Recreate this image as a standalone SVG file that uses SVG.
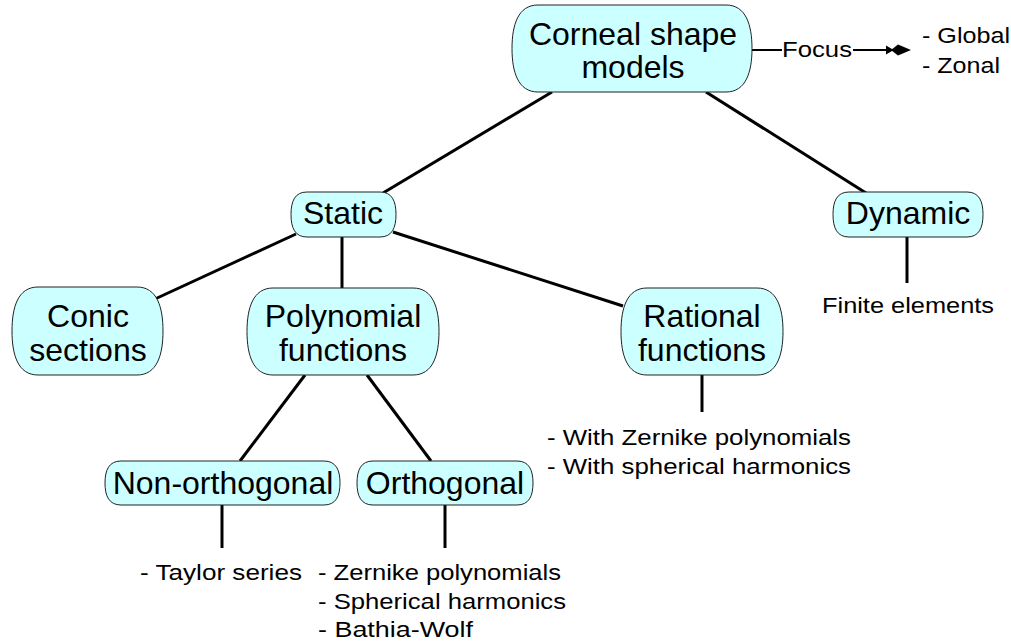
<svg xmlns="http://www.w3.org/2000/svg" width="1011" height="643" viewBox="0 0 1011 643">
  <style>
    .box { fill: #ccffff; stroke: #222; stroke-width: 1; }
    .lbl { font-family: "Liberation Sans", Arial, sans-serif; font-size: 32px; fill: #000; text-anchor: middle; }
    .note { font-family: "Liberation Sans", Arial, sans-serif; font-size: 22px; fill: #000; }
    .link { stroke: #000; stroke-width: 3; fill: none; }
    .thin { stroke: #000; stroke-width: 2; fill: none; }
  </style>
  <defs>
    <marker id="diamondHead" markerUnits="userSpaceOnUse" markerWidth="28" markerHeight="14" refX="2" refY="7" orient="auto" viewBox="0 0 28 14">
      <path d="M0,2.5 L6,6 L6,8 L0,11.5 Z M5,7 L12,1.5 L25,7 L12,12.5 Z" fill="#000"/>
    </marker>
  </defs>

  <!-- connectors -->
  <g id="connectors">
    <line class="link" x1="552" y1="92" x2="383" y2="193"/>
    <line class="link" x1="706" y1="92" x2="866" y2="193"/>
    <line class="link" x1="296" y1="234" x2="155" y2="299"/>
    <line class="link" x1="342" y1="237" x2="342" y2="288"/>
    <line class="link" x1="393" y1="232" x2="623" y2="306"/>
    <line class="link" x1="305" y1="375" x2="240" y2="461"/>
    <line class="link" x1="367" y1="375" x2="431" y2="461"/>
    <line class="link" x1="702" y1="375" x2="702" y2="412"/>
    <line class="link" x1="907" y1="237" x2="907" y2="283"/>
    <line class="link" x1="222" y1="505" x2="222" y2="548"/>
    <line class="link" x1="445" y1="505" x2="445" y2="548"/>
    <line class="thin" x1="752" y1="50" x2="782" y2="50"/>
    <line class="thin" x1="853" y1="50" x2="888" y2="50" marker-end="url(#diamondHead)"/>
    <text class="note" x="782" y="57" textLength="70" lengthAdjust="spacingAndGlyphs">Focus</text>
  </g>

  <!-- nodes -->
  <g id="node-corneal">
    <path class="box" d="M538,5 H726 C746,5 752,25 752,48.5 C752,72 746,92 726,92 H538 C518,92 512,72 512,48.5 C512,25 518,5 538,5 Z"/>
    <text class="lbl" x="633" y="45">Corneal shape</text>
    <text class="lbl" x="633" y="78">models</text>
  </g>
  <g id="node-static">
    <path class="box" d="M307,192 H380 C392,192 396,201 396,214.5 C396,228 392,237 380,237 H307 C295,237 291,228 291,214.5 C291,201 295,192 307,192 Z"/>
    <text class="lbl" x="343" y="224">Static</text>
  </g>
  <g id="node-dynamic">
    <path class="box" d="M849,192 H967 C979,192 983,201 983,214.5 C983,228 979,237 967,237 H849 C837,237 833,228 833,214.5 C833,201 837,192 849,192 Z"/>
    <text class="lbl" x="908" y="224">Dynamic</text>
  </g>
  <g id="node-conic">
    <path class="box" d="M38,287 H137 C157,287 163,307 163,331 C163,355 157,375 137,375 H38 C18,375 12,355 12,331 C12,307 18,287 38,287 Z"/>
    <text class="lbl" x="88" y="327">Conic</text>
    <text class="lbl" x="88" y="361">sections</text>
  </g>
  <g id="node-polynomial">
    <path class="box" d="M273,288 H413 C433,288 439,308 439,331.5 C439,355 433,375 413,375 H273 C253,375 247,355 247,331.5 C247,308 253,288 273,288 Z"/>
    <text class="lbl" x="343" y="327">Polynomial</text>
    <text class="lbl" x="343" y="361">functions</text>
  </g>
  <g id="node-rational">
    <path class="box" d="M647,288 H757 C777,288 783,308 783,331.5 C783,355 777,375 757,375 H647 C627,375 621,355 621,331.5 C621,308 627,288 647,288 Z"/>
    <text class="lbl" x="702" y="327">Rational</text>
    <text class="lbl" x="702" y="361">functions</text>
  </g>
  <g id="node-nonorthogonal">
    <path class="box" d="M121,461 H324 C336,461 340,470 340,483 C340,496 336,505 324,505 H121 C109,505 105,496 105,483 C105,470 109,461 121,461 Z"/>
    <text class="lbl" x="223" y="494">Non-orthogonal</text>
  </g>
  <g id="node-orthogonal">
    <path class="box" d="M373,461 H517 C529,461 533,470 533,483 C533,496 529,505 517,505 H373 C361,505 357,496 357,483 C357,470 361,461 373,461 Z"/>
    <text class="lbl" x="445" y="494">Orthogonal</text>
  </g>

  <!-- leaf notes -->
  <g id="note-focus">
    <text class="note" x="922" y="43" textLength="88" lengthAdjust="spacingAndGlyphs">- Global</text>
    <text class="note" x="922" y="73" textLength="78" lengthAdjust="spacingAndGlyphs">- Zonal</text>
  </g>
  <g id="note-dynamic">
    <text class="note" x="822" y="313" textLength="172" lengthAdjust="spacingAndGlyphs">Finite elements</text>
  </g>
  <g id="note-rational">
    <text class="note" x="547" y="445" textLength="304" lengthAdjust="spacingAndGlyphs">- With Zernike polynomials</text>
    <text class="note" x="547" y="474" textLength="304" lengthAdjust="spacingAndGlyphs">- With spherical harmonics</text>
  </g>
  <g id="note-nonorthogonal">
    <text class="note" x="140" y="580" textLength="162" lengthAdjust="spacingAndGlyphs">- Taylor series</text>
  </g>
  <g id="note-orthogonal">
    <text class="note" x="318" y="580" textLength="243" lengthAdjust="spacingAndGlyphs">- Zernike polynomials</text>
    <text class="note" x="318" y="609" textLength="248" lengthAdjust="spacingAndGlyphs">- Spherical harmonics</text>
    <text class="note" x="318" y="637" textLength="155" lengthAdjust="spacingAndGlyphs">- Bathia-Wolf</text>
  </g>
</svg>
